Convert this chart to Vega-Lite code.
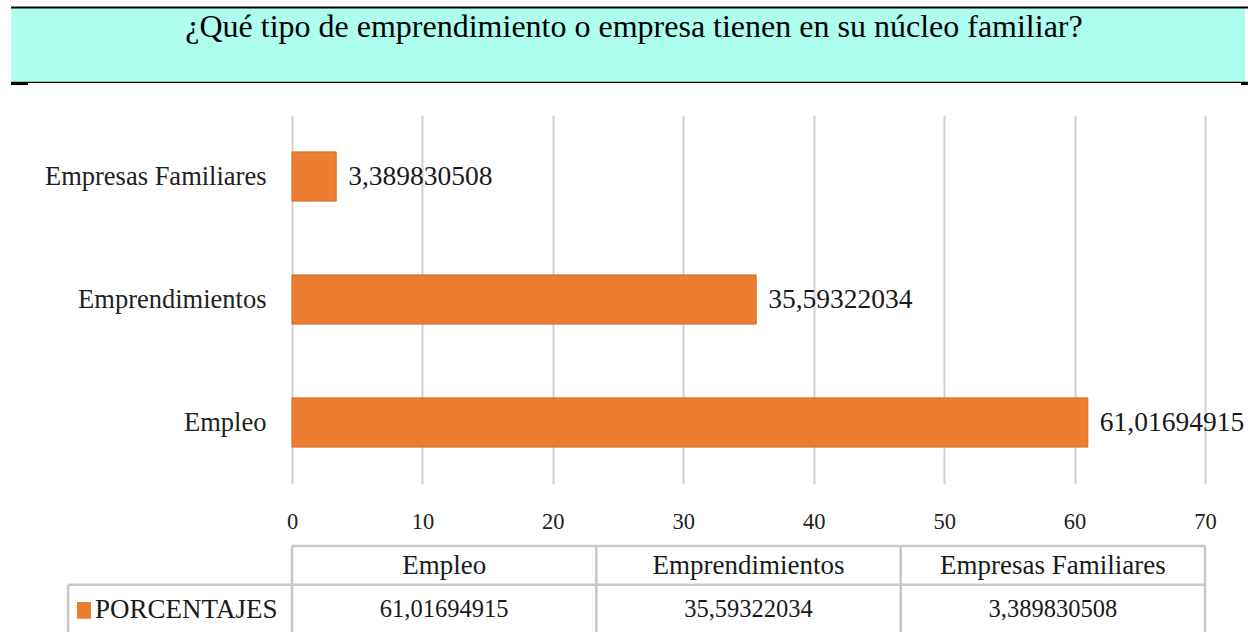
{
  "$schema": "https://vega.github.io/schema/vega-lite/v6.json",
  "background": "white",
  "padding": {"left": 9, "top": 0, "right": 0, "bottom": 0},
  "spacing": 0,
  "bounds": "flush",
  "config": {"view": {"stroke": null}},
  "resolve": {"scale": {"x": "independent", "y": "independent"}},
  "datasets": {
    "banda": [{"x0": -21.54, "x1": 73.07, "y0": 0, "y1": 1}],
    "lineaSup": [{"x0": -21.54, "x1": 73.3, "y0": 0}],
    "lineaInf": [{"x0": -21.54, "x1": 73.3, "y0": 1}],
    "extremos": [{"x0": -21.54, "x1": -20.24, "y0": 1.02}, {"x0": 72.76, "x1": 73.3, "y0": 1.02}],
    "titulo": [{"texto": "¿Qué tipo de emprendimiento o empresa tienen en su núcleo familiar?", "x": 26.22, "y": 0.26}],
    "datos": [
      {"categoria": "Empleo", "porcentaje": 61.01694915, "etiqueta": "61,01694915"},
      {"categoria": "Emprendimientos", "porcentaje": 35.59322034, "etiqueta": "35,59322034"},
      {"categoria": "Empresas Familiares", "porcentaje": 3.389830508, "etiqueta": "3,389830508"}
    ],
    "lineasTabla": [
      {"x0": 0, "x1": 70, "y0": 0, "y1": 0},
      {"x0": -17.17, "x1": 70, "y0": 1, "y1": 1},
      {"x0": 0, "x1": 0, "y0": 0, "y1": 3},
      {"x0": 23.333, "x1": 23.333, "y0": 0, "y1": 3},
      {"x0": 46.667, "x1": 46.667, "y0": 0, "y1": 3},
      {"x0": 70, "x1": 70, "y0": 0, "y1": 3},
      {"x0": -17.17, "x1": -17.17, "y0": 1, "y1": 3}
    ],
    "encabezados": [
      {"texto": "Empleo", "x": 11.667, "y": 0.51},
      {"texto": "Emprendimientos", "x": 35, "y": 0.51},
      {"texto": "Empresas Familiares", "x": 58.333, "y": 0.51}
    ],
    "valores": [
      {"texto": "61,01694915", "x": 11.667, "y": 1.64},
      {"texto": "35,59322034", "x": 35, "y": 1.64},
      {"texto": "3,389830508", "x": 58.333, "y": 1.64}
    ],
    "serie": [{"texto": "PORCENTAJES", "x": -15.1, "y": 1.64, "x0": -16.48, "x1": -15.41, "y0": 1.44, "y1": 1.87}]
  },
  "vconcat": [
    {
      "width": 913,
      "height": 115,
      "encoding": {
        "x": {"field": "x0", "type": "quantitative", "scale": {"domain": [0, 70], "nice": false, "zero": false}, "axis": null},
        "y": {"field": "y0", "type": "quantitative", "scale": {"domain": [-0.1, 1.437], "reverse": true, "nice": false, "zero": false}, "axis": null}
      },
      "layer": [
        {"data": {"name": "banda"}, "mark": {"type": "rect", "color": "#ADFEEE"}, "encoding": {"x2": {"field": "x1"}, "y2": {"field": "y1"}}},
        {"data": {"name": "lineaSup"}, "mark": {"type": "rule", "color": "#000000", "strokeWidth": 2}, "encoding": {"x2": {"field": "x1"}}},
        {"data": {"name": "lineaInf"}, "mark": {"type": "rule", "color": "#000000", "strokeWidth": 1.2}, "encoding": {"x2": {"field": "x1"}}},
        {"data": {"name": "extremos"}, "mark": {"type": "rule", "color": "#000000", "strokeWidth": 2.5}, "encoding": {"x2": {"field": "x1"}}},
        {"data": {"name": "titulo"}, "mark": {"type": "text", "font": "Liberation Serif", "fontSize": 32, "color": "#000000", "align": "center", "baseline": "middle"},
          "encoding": {"x": {"field": "x", "type": "quantitative"}, "y": {"field": "y", "type": "quantitative"}, "text": {"field": "texto"}}}
      ]
    },
    {
      "width": 913,
      "height": 369,
      "data": {"name": "datos"},
      "encoding": {
        "y": {"field": "categoria", "type": "nominal", "sort": ["Empresas Familiares", "Emprendimientos", "Empleo"],
          "scale": {"paddingInner": 0.6, "paddingOuter": 0.3},
          "axis": {"title": null, "domain": false, "ticks": false, "tickSize": 0, "labelPadding": 26, "labelFont": "Liberation Serif", "labelFontSize": 26.5, "labelColor": "#222222", "labelLimit": 400}},
        "x": {"field": "porcentaje", "type": "quantitative", "scale": {"domain": [0, 70], "nice": false},
          "axis": {"title": null, "values": [0, 10, 20, 30, 40, 50, 60, 70], "grid": true, "gridColor": "#d0d0d0", "gridWidth": 2, "domain": false, "ticks": false, "tickSize": 0, "labelPadding": 26, "labelFont": "Liberation Serif", "labelFontSize": 22.5, "labelColor": "#222222", "labelFlush": false, "labelOverlap": false}}
      },
      "layer": [
        {"mark": {"type": "bar", "color": "#ED7D31", "stroke": "#D8692A", "strokeWidth": 1}},
        {"mark": {"type": "text", "align": "left", "baseline": "middle", "dx": 12, "font": "Liberation Serif", "fontSize": 27.5, "color": "#1a1a1a"},
          "encoding": {"text": {"field": "etiqueta"}}}
      ]
    },
    {
      "width": 913,
      "height": 148,
      "encoding": {
        "x": {"field": "x", "type": "quantitative", "scale": {"domain": [0, 70], "nice": false, "zero": false}, "axis": null},
        "y": {"field": "y", "type": "quantitative", "scale": {"domain": [-1.59, 2.21], "reverse": true, "nice": false, "zero": false}, "axis": null}
      },
      "layer": [
        {"data": {"name": "lineasTabla"}, "mark": {"type": "rule", "color": "#c8c8c8", "strokeWidth": 2.5},
          "encoding": {"x": {"field": "x0", "type": "quantitative"}, "x2": {"field": "x1"}, "y": {"field": "y0", "type": "quantitative"}, "y2": {"field": "y1"}}},
        {"data": {"name": "encabezados"}, "mark": {"type": "text", "align": "center", "baseline": "middle", "font": "Liberation Serif", "fontSize": 27, "color": "#1a1a1a"},
          "encoding": {"text": {"field": "texto"}}},
        {"data": {"name": "valores"}, "mark": {"type": "text", "align": "center", "baseline": "middle", "font": "Liberation Serif", "fontSize": 24.5, "color": "#1a1a1a"},
          "encoding": {"text": {"field": "texto"}}},
        {"data": {"name": "serie"}, "mark": {"type": "rect", "color": "#ED7D31"},
          "encoding": {"x": {"field": "x0", "type": "quantitative"}, "x2": {"field": "x1"}, "y": {"field": "y0", "type": "quantitative"}, "y2": {"field": "y1"}}},
        {"data": {"name": "serie"}, "mark": {"type": "text", "align": "left", "baseline": "middle", "font": "Liberation Serif", "fontSize": 27, "color": "#1a1a1a"},
          "encoding": {"text": {"field": "texto"}}}
      ]
    }
  ]
}
